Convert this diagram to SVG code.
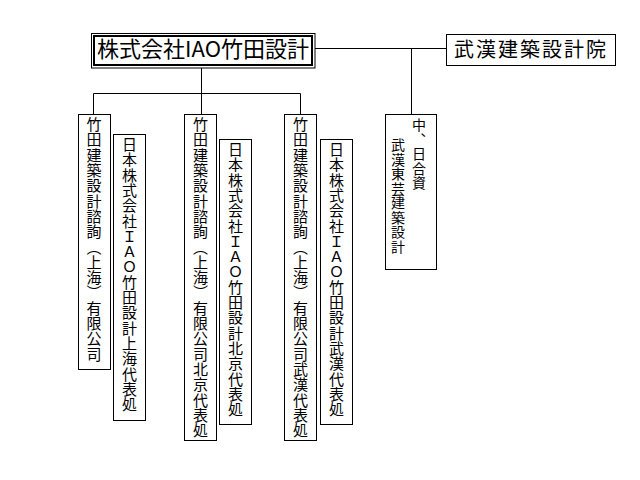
<svg xmlns="http://www.w3.org/2000/svg" width="640" height="480" viewBox="0 0 640 480">
<style>
.box{fill:#fff;stroke:#000;stroke-width:1}
.ln{fill:none;stroke:#000;stroke-width:1}
.v{font-family:"Noto Sans CJK JP","Noto Sans CJK SC",sans-serif;font-size:15px;fill:#000;writing-mode:vertical-rl;letter-spacing:0.3px}
.v2{font-family:"Noto Sans CJK JP","Noto Sans CJK SC",sans-serif;font-size:14px;fill:#000;writing-mode:vertical-rl;letter-spacing:0.5px}
.h{font-family:"Noto Sans CJK JP","Noto Sans CJK SC",sans-serif;fill:#000}
</style>
<rect width="640" height="480" fill="#fff"/>
<g id="connectors">
<line class="ln" x1="315" y1="48.5" x2="446" y2="48.5"/>
<line class="ln" x1="411.5" y1="48.5" x2="411.5" y2="114"/>
<line class="ln" x1="201.5" y1="68" x2="201.5" y2="114"/>
<polyline class="ln" points="93.5,114 93.5,93.5 300.5,93.5 300.5,114"/>
</g>
<g id="main">
<rect class="box" x="91.5" y="33.5" width="223.5" height="34.5"/>
<rect x="94" y="36" width="218" height="29" fill="none" stroke="#000" stroke-width="2"/>
<text class="h" x="203" y="57" font-size="22" text-anchor="middle">株式会社IAO竹田設計</text>
</g>
<g id="wuhan">
<rect class="box" x="446.5" y="34.5" width="169" height="31"/>
<text class="h" x="531" y="57" font-size="20" letter-spacing="2" text-anchor="middle">武漢建築設計院</text>
</g>
<g id="b1">
<rect class="box" x="78.5" y="114.5" width="32" height="255"/>
<text class="v" x="94" y="117">竹田建築設計諮詢（上海）有限公司</text>
</g>
<g id="b2">
<rect class="box" x="113.5" y="134.5" width="32" height="286"/>
<text class="v" x="129.5" y="137">日本株式会社ＩＡＯ竹田設計上海代表処</text>
</g>
<g id="b3">
<rect class="box" x="184.5" y="114.5" width="32" height="326"/>
<text class="v" x="200.5" y="117">竹田建築設計諮詢（上海）有限公司北京代表処</text>
</g>
<g id="b4">
<rect class="box" x="219.5" y="139.5" width="32" height="285"/>
<text class="v" x="235.5" y="142">日本株式会社ＩＡＯ竹田設計北京代表処</text>
</g>
<g id="b5">
<rect class="box" x="284.5" y="114.5" width="32" height="326"/>
<text class="v" x="300.5" y="117">竹田建築設計諮詢（上海）有限公司武漢代表処</text>
</g>
<g id="b6">
<rect class="box" x="320.5" y="139.5" width="32" height="285"/>
<text class="v" x="336.5" y="142">日本株式会社ＩＡＯ竹田設計武漢代表処</text>
</g>
<g id="b7">
<rect class="box" x="385.5" y="114.5" width="51" height="155"/>
<text class="v2" x="419" y="118">中、日合資</text>
<text class="v2" x="398" y="138">武漢東芸建築設計</text>
</g>
</svg>
